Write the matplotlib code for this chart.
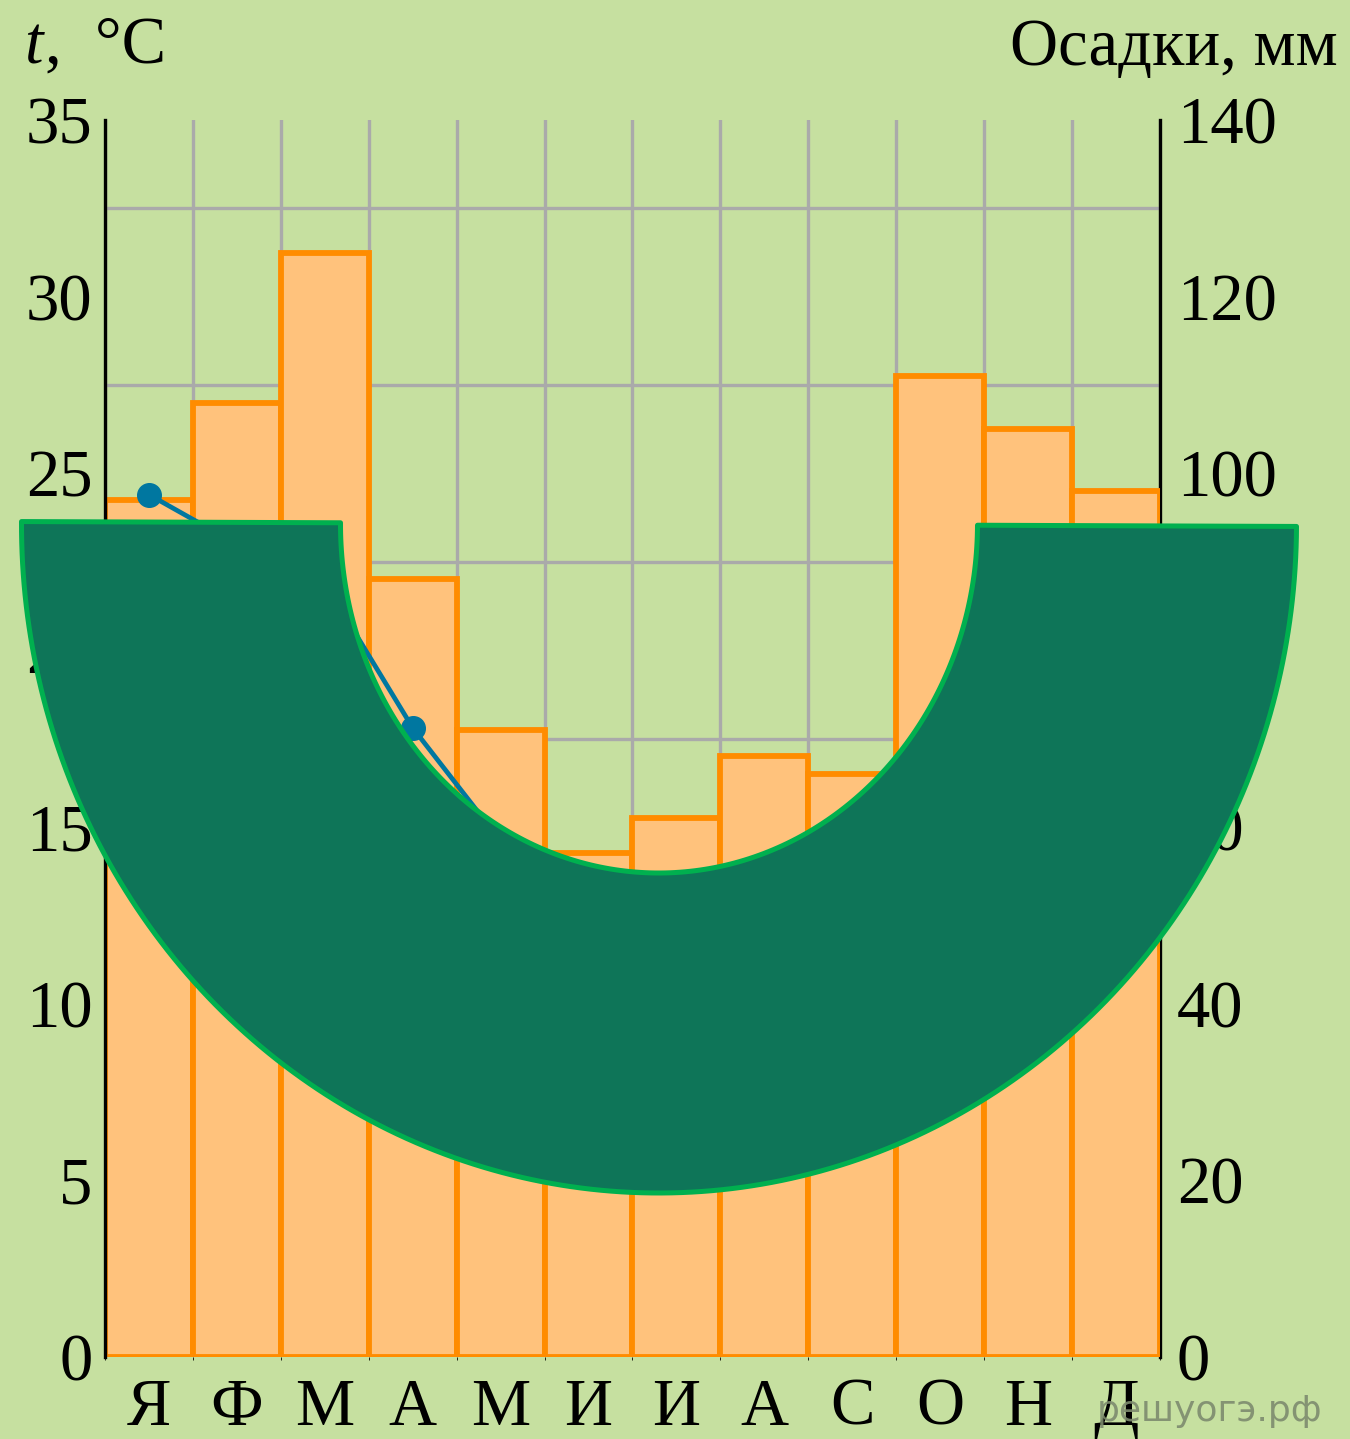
import numpy as np
import matplotlib
matplotlib.use("Agg")
from matplotlib import pyplot as plt
from matplotlib.patches import Polygon

# данные
months = ["Я", "Ф", "М", "А", "М", "И", "И", "А", "С", "О", "Н", "Д"]
precip = [97, 108, 125, 88, 71, 57, 61, 68, 66, 111, 105, 98]
temp = [24.4, 23.0, 21.9, 17.8, 14.6, 12.5, 11.5, 12.0, 14.0, 17.0, 20.0, 22.5]
t_ticks = [0, 5, 10, 15, 20, 25, 30, 35]
p_ticks = [0, 20, 40, 60, 80, 100, 120, 140]

bg = "#c6e0a0"
plt.rcParams["font.family"] = ["Liberation Serif", "DejaVu Serif"]

W, H = 1350, 1439
fig = plt.figure(figsize=(W / 100, H / 100), dpi=100, facecolor=bg)

left, right, top, bottom = 105, 1160, 120, 1357
rect = [left / W, (H - bottom) / H, (right - left) / W, (bottom - top) / H]

# ось осадков (снизу, со столбцами и сеткой)
ax2 = fig.add_axes(rect)
ax2.set_facecolor(bg)
x = np.arange(len(months))
ax2.bar(x, precip, width=1.0, color="#ffc27c", edgecolor="#ff8c00",
        linewidth=4.2, zorder=3)
ax2.set_xlim(-0.5, 11.5)
ax2.set_ylim(0, 140)
ax2.yaxis.tick_right()
ax2.set_yticks(p_ticks)
ax2.set_yticks(np.arange(0, 141, 10), minor=True)
ax2.set_yticklabels([str(v) for v in p_ticks], fontsize=48)
ax2.set_xticks(np.arange(-0.5, 12, 1), minor=True)
ax2.set_xticks(x)
ax2.set_xticklabels(months, fontsize=48)
ax2.tick_params(axis="both", which="both", length=0)
ax2.tick_params(axis="y", pad=12)
ax2.tick_params(axis="x", pad=15)
ax2.grid(which="minor", color="#aaaaaa", linewidth=2.4, zorder=0)
ax2.set_axisbelow(True)
for s in ["top", "bottom", "left"]:
    ax2.spines[s].set_visible(False)
ax2.spines["right"].set_linewidth(2.4)

# ось температуры (сверху, прозрачная)
ax = fig.add_axes(rect, sharex=ax2)
ax.patch.set_visible(False)
ax.plot(x, temp, color="#0077a0", linewidth=3.4, marker="o", markersize=17,
        zorder=5)
ax.set_ylim(0, 35)
ax.set_yticks(t_ticks)
ax.set_yticklabels([str(v) for v in t_ticks], fontsize=48)
ax.tick_params(axis="y", length=0, pad=9)
ax.tick_params(axis="x", length=0, labelbottom=False)
for s in ["top", "bottom", "right"]:
    ax.spines[s].set_visible(False)
ax.spines["left"].set_linewidth(2.4)

# подписи
fig.text(24 / W, (H - 63) / H, "t", fontsize=48, fontstyle="italic")
fig.text(45 / W, (H - 63) / H, ",  °C", fontsize=48)
fig.text(1338 / W, (H - 65) / H, "Осадки, мм", fontsize=48, ha="right")

# накладка
ov = fig.add_axes([0, 0, 1, 1])
ov.set_xlim(0, W)
ov.set_ylim(H, 0)
ov.axis("off")
cx, cy = 659, 524
ao, bo = 637.5, 669
ai, bi = 318.5, 349
phi = np.linspace(np.pi, 0, 200)
outer = np.column_stack([cx + ao * np.cos(phi), cy + bo * np.sin(phi)])
inner = np.column_stack([cx + ai * np.cos(phi[::-1]), cy + bi * np.sin(phi[::-1])])
pts = np.vstack([outer, inner])
t = np.deg2rad(0.22)
dx, dy = pts[:, 0] - cx, pts[:, 1] - cy
pts = np.column_stack([cx + dx * np.cos(t) - dy * np.sin(t),
                       cy + dx * np.sin(t) + dy * np.cos(t)])
ov.add_patch(Polygon(pts, closed=True, facecolor="#0e7558", edgecolor="#00b04f",
                     linewidth=3.6, joinstyle="round"))

ov.text(1322, 1421, "решуогэ.рф", fontsize=26, ha="right", va="baseline",
        color="#7d8b6e", alpha=0.9, family=["DejaVu Sans"])

fig.savefig("out.png", dpi=100, facecolor=bg)
